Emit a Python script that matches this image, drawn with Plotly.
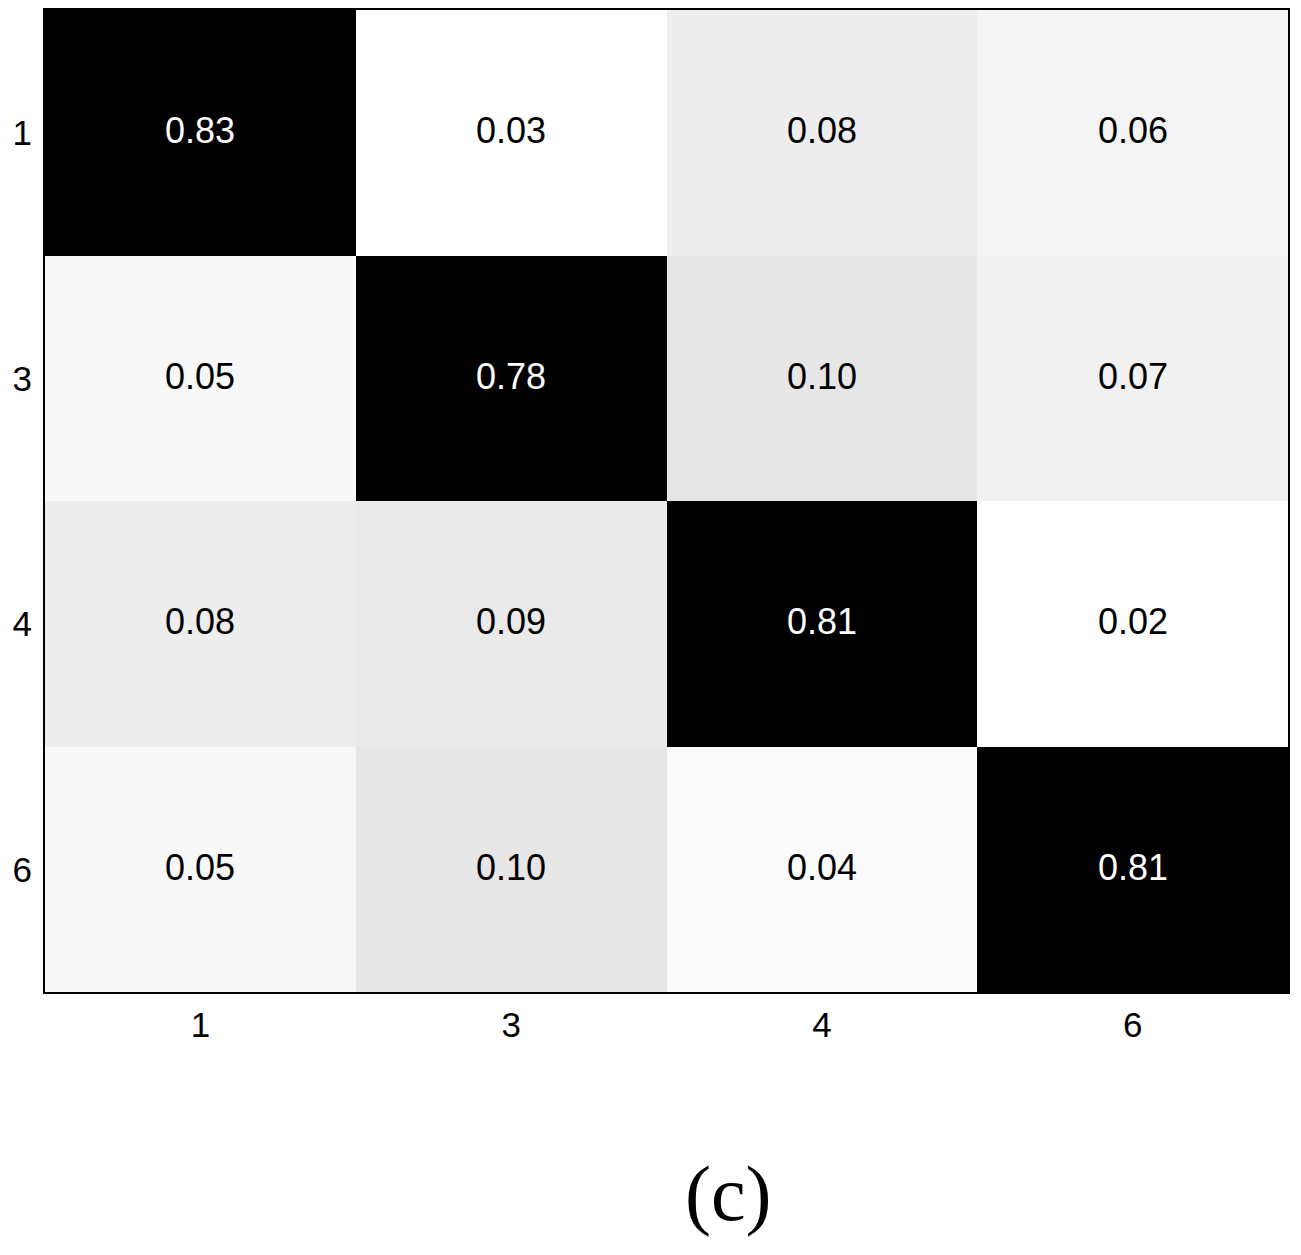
import plotly.graph_objects as go

classes = ["1", "3", "4", "6"]
values = [
    [0.83, 0.03, 0.08, 0.06],
    [0.05, 0.78, 0.10, 0.07],
    [0.08, 0.09, 0.81, 0.02],
    [0.05, 0.10, 0.04, 0.81],
]
panel_label = "(c)"

fig = go.Figure(go.Heatmap(
    z=values, x=classes, y=classes,
    colorscale=[[0, "#ffffff"], [1, "#000000"]],
    zmin=0.03, zmax=0.744, showscale=False,
    hoverinfo="z",
))
for i in range(len(classes)):
    for j in range(len(classes)):
        v = values[i][j]
        fig.add_annotation(x=j, y=i, xref="x", yref="y", text=f"{v:.2f}", showarrow=False,
                           yshift=2,
                           font=dict(family="Liberation Sans, Arial", size=36,
                                     color="white" if v > 0.4 else "black"))
fig.update_layout(
    width=1285, height=1240,
    margin=dict(l=37, r=5, t=0, b=256),
    paper_bgcolor="white", plot_bgcolor="white",
    font=dict(family="Liberation Sans, Arial", size=35, color="black"),
    showlegend=False,
)
fig.update_xaxes(type="category", categoryorder="array", categoryarray=classes,
                 showline=True, linecolor="black", linewidth=2,
                 mirror=True, ticks="", ticklabelstandoff=1, showgrid=False, zeroline=False)
fig.update_yaxes(type="category", categoryorder="array", categoryarray=classes,
                 autorange="reversed", showline=True, linecolor="black",
                 linewidth=2, mirror=True, ticks="", ticklabelstandoff=4,
                 showgrid=False, zeroline=False)
fig.add_annotation(text=panel_label, xref="paper", yref="paper", x=0.55, y=-0.205,
                   xanchor="center", yanchor="middle", showarrow=False,
                   font=dict(family="Liberation Serif, Times New Roman", size=78, color="black"))
fig.write_html("out.html")
